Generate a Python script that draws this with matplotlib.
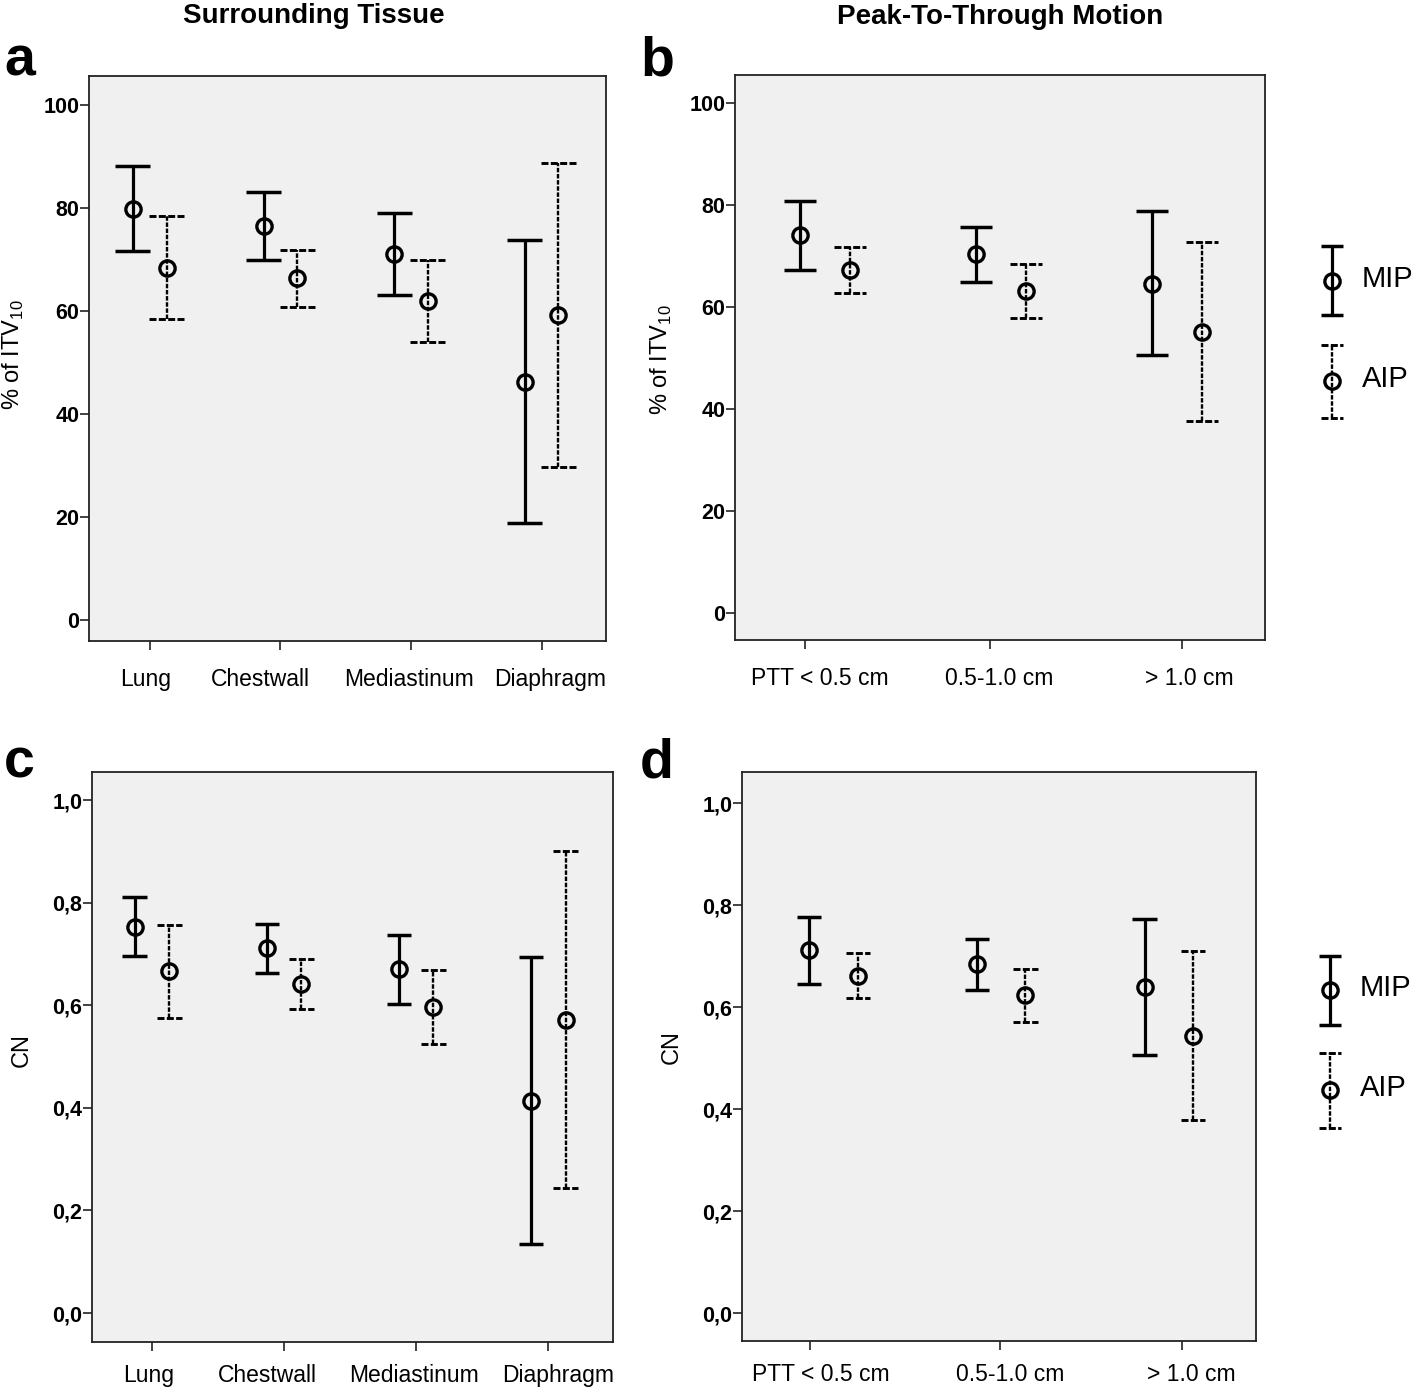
import matplotlib
matplotlib.use('Agg')
import numpy as np
import matplotlib.pyplot as plt
from matplotlib.transforms import ScaledTranslation

plt.rcParams['font.family'] = ['Liberation Sans', 'DejaVu Sans']
plt.rcParams['mathtext.fontset'] = 'custom'
plt.rcParams['mathtext.rm'] = 'Liberation Sans'

# categories
tissue = ['Lung', 'Chestwall', 'Mediastinum', 'Diaphragm']
motion = ['PTT < 0.5 cm', '0.5-1.0 cm', '> 1.0 cm']

# panel a: % of ITV10 by surrounding tissue (mean, lower, upper)
a_mip_mean = [79.8, 76.5, 71.1, 46.2]
a_mip_lo = [71.7, 69.9, 63.1, 18.8]
a_mip_hi = [88.2, 83.0, 79.1, 73.8]
a_aip_mean = [68.4, 66.3, 61.9, 59.2]
a_aip_lo = [58.4, 60.8, 54.0, 29.7]
a_aip_hi = [78.4, 71.9, 69.8, 88.7]

# panel b: % of ITV10 by peak-to-through motion
b_mip_mean = [74.1, 70.3, 64.6]
b_mip_lo = [67.3, 64.9, 50.5]
b_mip_hi = [80.7, 75.7, 78.8]
b_aip_mean = [67.3, 63.2, 55.1]
b_aip_lo = [62.7, 57.8, 37.6]
b_aip_hi = [71.7, 68.5, 72.7]

# panel c: CN by surrounding tissue
c_mip_mean = [0.753, 0.711, 0.670, 0.413]
c_mip_lo = [0.696, 0.663, 0.602, 0.134]
c_mip_hi = [0.811, 0.758, 0.737, 0.694]
c_aip_mean = [0.667, 0.641, 0.596, 0.571]
c_aip_lo = [0.576, 0.593, 0.524, 0.244]
c_aip_hi = [0.757, 0.690, 0.668, 0.900]

# panel d: CN by peak-to-through motion
d_mip_mean = [0.712, 0.684, 0.640]
d_mip_lo = [0.646, 0.633, 0.506]
d_mip_hi = [0.777, 0.733, 0.773]
d_aip_mean = [0.661, 0.623, 0.544]
d_aip_lo = [0.618, 0.571, 0.378]
d_aip_hi = [0.706, 0.675, 0.710]

pct_ticks = [0, 20, 40, 60, 80, 100]
pct_labels = ['0', '20', '40', '60', '80', '100']
cn_ticks = [0.0, 0.2, 0.4, 0.6, 0.8, 1.0]
cn_labels = ['0,0', '0,2', '0,4', '0,6', '0,8', '1,0']

W, H = 1418, 1390
BG = '#f0f0f0'
fig = plt.figure(figsize=(W / 100, H / 100), dpi=100)


def px_axes(left, top, right, bottom):
    return fig.add_axes([left / W, 1 - bottom / H, (right - left) / W, (bottom - top) / H])


def draw_series(ax, x, mean, lo, hi, cap, solid):
    x = np.asarray(x, dtype=float)
    if solid:
        ax.vlines(x, lo, hi, colors='black', linewidth=2.3)
        ax.hlines(lo, x - cap, x + cap, colors='black', linewidth=2.5)
        ax.hlines(hi, x - cap, x + cap, colors='black', linewidth=2.5)
    else:
        ax.vlines(x, lo, hi, colors='black', linewidth=1.7, linestyles=(0, (1.9, 0.7)))
        ax.hlines(lo, x - cap, x + cap, colors='black', linewidth=2.1, linestyles=(0, (2.4, 0.8)))
        ax.hlines(hi, x - cap, x + cap, colors='black', linewidth=2.1, linestyles=(0, (2.4, 0.8)))
    ax.plot(x, mean, 'o', ms=11, mfc='none', mec='black', mew=2.4, zorder=3)


def style_axes(ax, xlim, ylim, yticks, ylabels, xticks, xlabels, label_dx, xpad):
    ax.set_facecolor(BG)
    ax.set_xlim(*xlim)
    ax.set_ylim(*ylim)
    ax.set_yticks(yticks)
    ax.set_yticklabels(ylabels, fontsize=15.5, fontweight='bold')
    ax.set_xticks(xticks)
    ax.set_xticklabels(xlabels, fontsize=16.5)
    ax.tick_params(axis='y', direction='out', length=6.5, width=1.2, pad=0.5, color='#222222')
    ax.tick_params(axis='x', direction='out', length=6.5, width=1.2, pad=xpad, color='#222222')
    for s in ax.spines.values():
        s.set_linewidth(1.3)
        s.set_color('#222222')
    for lab, dx in zip(ax.get_xticklabels(), label_dx):
        lab.set_transform(lab.get_transform() + ScaledTranslation(dx / 100, 0, fig.dpi_scale_trans))


# panel a
ax_a = px_axes(89, 76, 606, 641)
xa = np.arange(len(tissue))
draw_series(ax_a, xa - 0.13, a_mip_mean, a_mip_lo, a_mip_hi, 0.134, True)
draw_series(ax_a, xa + 0.13, a_aip_mean, a_aip_lo, a_aip_hi, 0.134, False)
style_axes(ax_a, (-0.467, 3.494), (-4.08, 105.6), pct_ticks, pct_labels,
           xa, tissue, [-4, -20, -2, 9], 13)
ax_a.set_ylabel(r'% of ITV$_{\mathregular{10}}$', fontsize=17, va='center')
ax_a.yaxis.set_label_coords(-0.147, 0.506)

# panel b
ax_b = px_axes(735, 75, 1265, 640)
xb = np.arange(len(motion))
draw_series(ax_b, xb - 0.14, b_mip_mean, b_mip_lo, b_mip_hi, 0.091, True)
draw_series(ax_b, xb + 0.14, b_aip_mean, b_aip_lo, b_aip_hi, 0.091, False)
style_axes(ax_b, (-0.511, 2.5), (-5.3, 105.5), pct_ticks, pct_labels,
           [-0.114, 0.9375, 2.028], motion, [15, 9, 7], 13)
ax_b.set_ylabel(r'% of ITV$_{\mathregular{10}}$', fontsize=17, va='center')
ax_b.yaxis.set_label_coords(-0.138, 0.496)

# panel c
ax_c = px_axes(92, 772, 613, 1342)
draw_series(ax_c, xa - 0.131, c_mip_mean, c_mip_lo, c_mip_hi, 0.093, True)
draw_series(ax_c, xa + 0.131, c_aip_mean, c_aip_lo, c_aip_hi, 0.093, False)
style_axes(ax_c, (-0.4545, 3.49), (-0.0565, 1.0546), cn_ticks, cn_labels,
           xa, tissue, [-3, -17, -2, 10], 9)
ax_c.set_ylabel('CN', fontsize=17, va='center')
ax_c.yaxis.set_label_coords(-0.134, 0.512)

# panel d
ax_d = px_axes(742, 772, 1256, 1341)
draw_series(ax_d, xb - 0.145, d_mip_mean, d_mip_lo, d_mip_hi, 0.073, True)
draw_series(ax_d, xb + 0.145, d_aip_mean, d_aip_lo, d_aip_hi, 0.073, False)
style_axes(ax_d, (-0.546, 2.52), (-0.0549, 1.061), cn_ticks, cn_labels,
           [-0.14, 0.994, 2.08], motion, [11, 10, 9], 9)
ax_d.set_ylabel('CN', fontsize=17, va='center')
ax_d.yaxis.set_label_coords(-0.136, 0.517)

# overlay in pixel coords for titles, panel letters and legends
ov = fig.add_axes([0, 0, 1, 1])
ov.set_xlim(0, W)
ov.set_ylim(H, 0)
ov.set_axis_off()

ov.text(314, 16, 'Surrounding Tissue', fontsize=20, fontweight='bold', ha='center', va='center')
ov.text(1000, 17, 'Peak-To-Through Motion', fontsize=20, fontweight='bold', ha='center', va='center')
for letter, lx, ly in [('a', 4, 75), ('b', 640, 75), ('c', 4, 778), ('d', 640, 778)]:
    ov.text(lx, ly, letter, fontsize=40, fontweight='bold', ha='left', va='baseline')


def legend_glyph(x, top, mid, bottom, solid, label):
    draw_series(ov, [x], [mid], [bottom], [top], 11, solid)
    ov.text(x + 30, mid - 2, label, fontsize=21, ha='left', va='center')


legend_glyph(1332, 246, 281, 315, True, 'MIP')
legend_glyph(1332, 345, 381, 418, False, 'AIP')
legend_glyph(1330, 956, 990, 1025, True, 'MIP')
legend_glyph(1330, 1053, 1090, 1128, False, 'AIP')

fig.savefig('out.png', dpi=100)
